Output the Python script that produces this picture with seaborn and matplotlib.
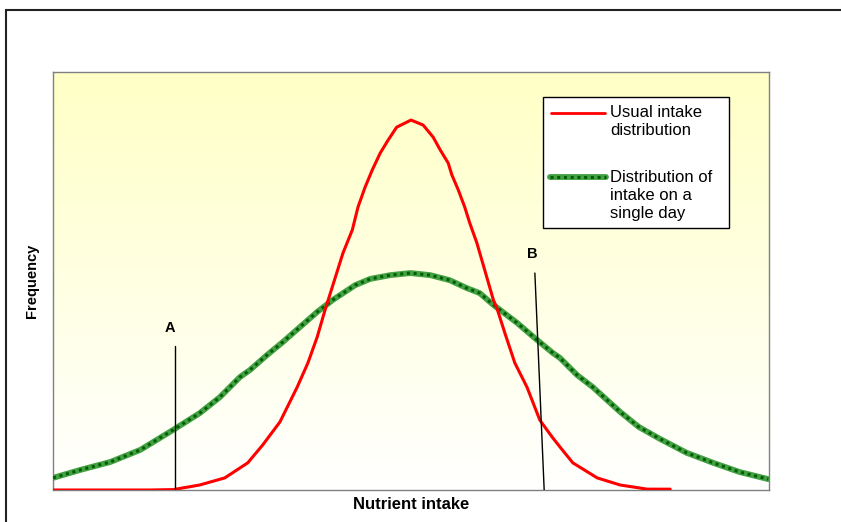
import matplotlib
matplotlib.use("Agg")
import matplotlib.pyplot as plt
import numpy as np
import pandas as pd
import seaborn as sns
from matplotlib.patches import Rectangle

# curve readings (x: nutrient intake, y: frequency, both in 0-100 units)
usual_x = [0, 13.5, 16.8, 20.5, 24.0, 27.2, 29.3, 31.7, 34.1, 35.6, 36.9, 38.0, 39.4,
           40.5, 41.8, 42.6, 43.6, 44.6, 45.7, 46.8, 48.0, 50.0, 51.7, 53.1, 54.1,
           55.2, 55.7, 56.6, 57.5, 58.2, 59.2, 60.3, 61.5, 62.0, 63.1, 64.5, 66.2,
           68.0, 69.7, 70.8, 72.6, 76.0, 79.2, 83.0, 86.2]
usual_y = [0, 0, 0.1, 1.2, 2.9, 6.5, 10.8, 16.3, 24.6, 30.4, 36.6, 43.1, 50.7,
           56.7, 62.2, 67.7, 72.5, 76.6, 80.6, 83.7, 86.8, 88.5, 87.3, 84.4, 81.3,
           78.2, 75.4, 71.8, 67.7, 63.9, 59.1, 52.6, 45.5, 43.5, 37.6, 30.4, 24.6,
           16.7, 12.7, 10.3, 6.5, 2.9, 1.2, 0.2, 0.2]

day_x = [0, 3.8, 8.0, 12.2, 16.8, 20.5, 23.3, 26.1, 27.5, 29.9, 32.1, 34.5, 36.9,
         39.1, 42.2, 44.3, 47.1, 49.9, 52.7, 55.4, 57.8, 59.6, 61.5, 64.8, 67.6,
         69.8, 70.8, 73.2, 75.4, 79.2, 81.8, 84.8, 88.5, 92.2, 95.9, 99.9]
day_y = [2.9, 4.8, 6.7, 9.6, 14.4, 18.4, 22.2, 27.0, 28.7, 32.3, 35.4, 39.0, 42.6,
         45.5, 49.0, 50.5, 51.4, 51.9, 51.4, 50.2, 48.3, 47.1, 44.3, 40.0, 35.9,
         32.8, 31.6, 27.5, 24.6, 18.7, 15.1, 12.2, 8.9, 6.5, 4.3, 2.6]

# cut-off markers A and B
a_x = [17.0, 17.0]
a_y = [0, 34.4]
b_x = [67.3, 68.6]
b_y = [51.9, 0]

legend_usual = ["Usual intake", "distribution"]
legend_day = ["Distribution of", "intake on a", "single day"]

sns.set_style("white")
plt.rcParams['font.family'] = ['Liberation Sans', 'DejaVu Sans']
plt.rcParams['text.color'] = 'black'
plt.rcParams['axes.labelcolor'] = 'black'

fig = plt.figure(figsize=(8.41, 5.22), dpi=100)
ax = fig.add_axes([53 / 841, 32 / 522, 716 / 841, 418 / 522])

# yellow-to-white background
grad = np.linspace(1, 0, 256).reshape(-1, 1)
cmap = matplotlib.colors.LinearSegmentedColormap.from_list("bg", ["#ffffff", "#ffffc6"])
ax.imshow(grad, extent=[0, 100, 0, 100], aspect='auto', cmap=cmap, zorder=0,
          origin='upper')

usual = pd.DataFrame({"x": usual_x, "y": usual_y})
day = pd.DataFrame({"x": day_x, "y": day_y})

sns.lineplot(data=day, x="x", y="y", ax=ax, color="#44a044", linewidth=4.2, zorder=3)
sns.lineplot(data=day, x="x", y="y", ax=ax, color="#006000", linewidth=2.2, zorder=4)
ax.lines[-1].set_dashes([1, 1.2])
sns.lineplot(data=usual, x="x", y="y", ax=ax, color="#ff0000", linewidth=2.2, zorder=5)

ax.plot(a_x, a_y, color="black", linewidth=1, zorder=6)
ax.plot(b_x, b_y, color="black", linewidth=1, zorder=6)
ax.text(a_x[1] - 0.6, a_y[1] + 3.5, "A", fontsize=10.5, fontweight="bold", ha="center")
ax.text(b_x[0] - 0.4, b_y[0] + 3.5, "B", fontsize=10.5, fontweight="bold", ha="center")

ax.set_xlim(0, 100)
ax.set_ylim(0, 100)
ax.set_xticks([])
ax.set_yticks([])
ax.set_xlabel("Nutrient intake", fontsize=12, fontweight="bold", labelpad=5)
ax.set_ylabel("Frequency", fontsize=10.5, fontweight="bold", labelpad=10)
for s in ax.spines.values():
    s.set_color("#808080")
    s.set_linewidth(1)

# legend box drawn by hand so the keys sit on the first text line
tr = ax.transAxes
ax.add_patch(Rectangle((0.6844, 0.6268), 0.2597, 0.3134, transform=tr,
                       facecolor="white", edgecolor="black", linewidth=1, zorder=7))
ax.plot([0.6955, 0.7710], [0.9019, 0.9019], transform=tr, color="#ff0000",
        linewidth=2, zorder=8)
ax.plot([0.6941, 0.7723], [0.7488, 0.7488], transform=tr, color="#44a044",
        linewidth=4.2, zorder=8)
ax.plot([0.6941, 0.7723], [0.7488, 0.7488], transform=tr, color="#006000",
        linewidth=2.2, dashes=[1, 1.2], zorder=9)
for i, line in enumerate(legend_usual):
    ax.text(0.7779, 0.9043 - i * 0.0431, line, transform=tr, fontsize=12,
            va="center", ha="left", zorder=9)
for i, line in enumerate(legend_day):
    ax.text(0.7779, 0.7488 - i * 0.0431, line, transform=tr, fontsize=12,
            va="center", ha="left", zorder=9)

# outer chart border
fig.patches.append(Rectangle((6 / 841, -0.1), 1.2, 1 - 10 / 522 + 0.1,
                             transform=fig.transFigure, fill=False,
                             edgecolor="#222222", linewidth=1.5))

fig.savefig("out.png", dpi=100)
